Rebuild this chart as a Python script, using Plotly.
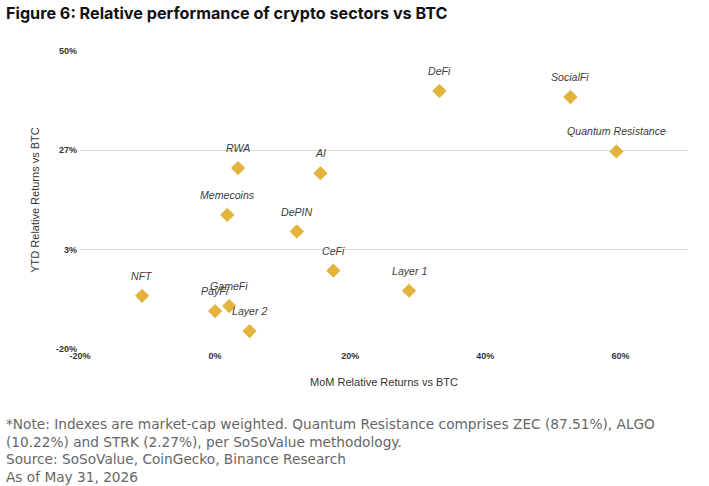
import plotly.graph_objects as go

sectors = ["DeFi", "SocialFi", "Quantum Resistance", "RWA", "AI", "Memecoins", "DePIN",
           "CeFi", "Layer 1", "NFT", "GameFi", "PayFi", "Layer 2"]
mom_returns = [33.2, 52.6, 59.4, 3.4, 15.6, 1.8, 12.1, 17.5, 28.7, -10.8, 2.1, 0.0, 5.1]
ytd_returns = [40.6, 39.2, 26.4, 22.5, 21.3, 11.5, 7.6, -1.6, -6.3, -7.5, -9.9, -11.1, -15.8]

x_tick_values = [-20, 0, 20, 40, 60]
x_tick_labels = ["-20%", "0%", "20%", "40%", "60%"]
y_tick_values = [-20, -20 + 70 / 3, -20 + 140 / 3, 50]
y_tick_labels = ["-20%", "3%", "27%", "50%"]

GOLD = "#E3B43B"

fig = go.Figure()
fig.add_trace(go.Scatter(
    x=mom_returns, y=ytd_returns, mode="markers",
    marker=dict(symbol="diamond", size=11, color=GOLD, line=dict(width=0)),
    hoverinfo="skip", showlegend=False,
))

for name, x, y in zip(sectors, mom_returns, ytd_returns):
    fig.add_annotation(
        x=x, y=y, text=name, showarrow=True, arrowhead=0, arrowwidth=0.6,
        arrowcolor="#ececec", ax=0, ay=-20, standoff=6,
        font=dict(family="Liberation Sans, Arial", size=10.6, color="#3c3c3c", style="italic"),
    )

W, H, L, R, T, B = 709, 486, 80, 21, 51, 137


def px_to_paper(px, py):
    return (px - L) / (W - L - R), 1 - (py - T) / (H - T - B)


tx, ty = px_to_paper(4, 13)
fig.add_annotation(
    x=tx, y=ty, xref="paper", yref="paper", xanchor="left", yanchor="middle",
    text="Figure 6: Relative performance of crypto sectors vs BTC", showarrow=False,
    font=dict(family="Inter", size=16.2, color="#111111", weight="bold"),
)

note_lines = [
    "*Note: Indexes are market-cap weighted. Quantum Resistance comprises ZEC (87.51%), ALGO",
    "(10.22%) and STRK (2.27%), per SoSoValue methodology.",
    "Source: SoSoValue, CoinGecko, Binance Research",
    "As of May 31, 2026",
]
for i, line in enumerate(note_lines):
    nx, ny = px_to_paper(4, 424 + 17.7 * i)
    fig.add_annotation(
        x=nx, y=ny, xref="paper", yref="paper", xanchor="left", yanchor="middle",
        text=line, showarrow=False,
        font=dict(family="DejaVu Sans", size=13.7, color="#666666"),
    )

fig.update_layout(
    width=W, height=H,
    margin=dict(l=L, r=R, t=T, b=B),
    paper_bgcolor="white", plot_bgcolor="white",
    xaxis=dict(
        range=[-20, 70], tickvals=x_tick_values, ticktext=x_tick_labels,
        showgrid=False, zeroline=False, showline=False, ticks="",
        tickfont=dict(family="Liberation Sans, Arial", size=9, color="#333333", weight="bold"),
        title=dict(text="MoM Relative Returns vs BTC", standoff=18,
                   font=dict(family="Liberation Sans, Arial", size=11, color="#333333")),
    ),
    yaxis=dict(
        range=[-20, 50], tickvals=y_tick_values, ticktext=y_tick_labels,
        showgrid=True, gridcolor="#dddddd", gridwidth=1, zeroline=False, showline=False,
        ticks="", ticklabelstandoff=2,
        tickfont=dict(family="Liberation Sans, Arial", size=9, color="#333333", weight="bold"),
        title=dict(text="YTD Relative Returns vs BTC", standoff=14,
                   font=dict(family="Liberation Sans, Arial", size=11, color="#333333")),
    ),
)

fig.write_html("out.html")
